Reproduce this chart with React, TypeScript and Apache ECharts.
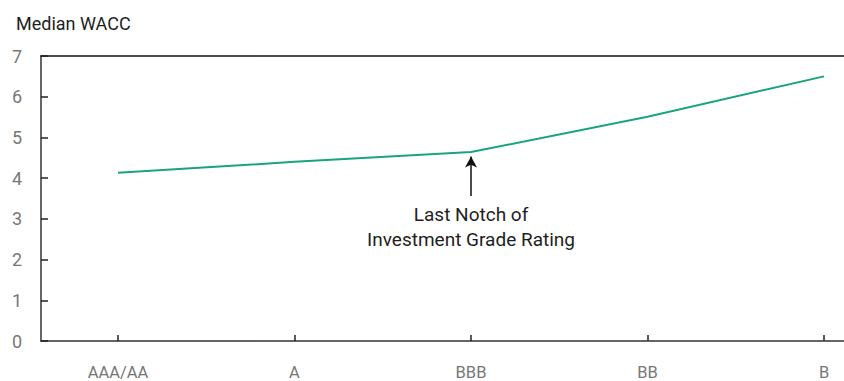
import React, { useEffect, useRef } from "react";
import * as echarts from "echarts";

// Credit rating buckets along the x axis
const ratings = ["AAA/AA", "A", "BBB", "BB", "B"];
// Median WACC (%) for each rating bucket
const medianWacc = [4.13, 4.4, 4.64, 5.51, 6.5];
// Y axis tick range
const yTicks = [0, 1, 2, 3, 4, 5, 6, 7];

// Annotation: arrow pointing at the BBB point, with a caption below it
const noteIndex = 2;
const noteArrow = [3.56, 4.53]; // from / to, in WACC units
const noteTextAt = 2.79;
const noteText = ["Last Notch of", "Investment Grade Rating"];

const FONT = "Roboto, 'DejaVu Sans', sans-serif";

export default function App() {
  const ref = useRef<HTMLDivElement>(null);

  useEffect(() => {
    if (!ref.current) return;
    const chart = echarts.init(ref.current, null, { renderer: "svg" });

    const idx = ratings.map((_, i) => i);
    // The category axis sits inset from the plot's left edge
    const xMin = -0.436;
    const xMax = ratings.length - 1 + 0.113;

    chart.setOption({
      animation: false,
      textStyle: { fontFamily: FONT },
      title: {
        text: "Median WACC",
        left: 11,
        top: 9,
        textStyle: { fontFamily: FONT, fontSize: 18, fontWeight: "normal", color: "#1e1e1e" },
      },
      grid: { left: 41, right: 0, top: 56, bottom: 40, containLabel: false },
      xAxis: [
        {
          type: "value",
          min: xMin,
          max: xMax,
          position: "bottom",
          splitLine: { show: false },
          axisLine: { show: true, lineStyle: { color: "#333", width: 1.5 } },
          axisTick: {
            show: true,
            inside: true,
            length: 6,
            customValues: idx,
            lineStyle: { color: "#222", width: 1.5 },
          },
          axisLabel: {
            show: true,
            customValues: idx,
            margin: 23,
            fontSize: 16.5,
            color: "#777",
            fontFamily: FONT,
            formatter: (v: number) => ratings[Math.round(v)] ?? "",
          },
        },
        {
          type: "value",
          min: xMin,
          max: xMax,
          position: "top",
          splitLine: { show: false },
          axisLine: { show: true, onZero: false, lineStyle: { color: "#111", width: 1.5 } },
          axisTick: { show: false },
          axisLabel: { show: false },
        },
      ],
      yAxis: {
        type: "value",
        min: yTicks[0],
        max: yTicks[yTicks.length - 1],
        interval: 1,
        splitLine: { show: false },
        axisLine: { show: true, onZero: false, lineStyle: { color: "#333", width: 1.5 } },
        axisTick: { show: true, inside: true, length: 7, lineStyle: { color: "#222", width: 1.5 } },
        axisLabel: { margin: 19, fontSize: 18, color: "#777", fontFamily: FONT },
      },
      series: [
        {
          type: "line",
          xAxisIndex: 0,
          data: medianWacc.map((v, i) => [i, v]),
          showSymbol: false,
          lineStyle: { color: "#17a47f", width: 2 },
          itemStyle: { color: "#17a47f" },
          silent: true,
          markLine: {
            silent: true,
            symbol: ["none", "arrow"],
            symbolSize: [9, 11],
            label: { show: false },
            lineStyle: { color: "#111", width: 1.5, type: "solid" },
            data: [
              [
                { coord: [noteIndex, noteArrow[0]] },
                { coord: [noteIndex, noteArrow[1]] },
              ],
            ],
          },
          markPoint: {
            silent: true,
            data: [
              {
                coord: [noteIndex, noteTextAt],
                symbol: "circle",
                symbolSize: 1,
                itemStyle: { color: "rgba(0,0,0,0)" },
                label: {
                  show: true,
                  position: "inside",
                  formatter: noteText.join("\n"),
                  color: "#1e1e1e",
                  fontSize: 19,
                  lineHeight: 25,
                  align: "center",
                  fontFamily: FONT,
                },
              },
            ],
          },
        },
      ],
    });

    return () => chart.dispose();
  }, []);

  return (
    <div
      ref={ref}
      style={{ position: "fixed", left: 0, top: 0, width: 844, height: 381, background: "#fff" }}
    />
  );
}
